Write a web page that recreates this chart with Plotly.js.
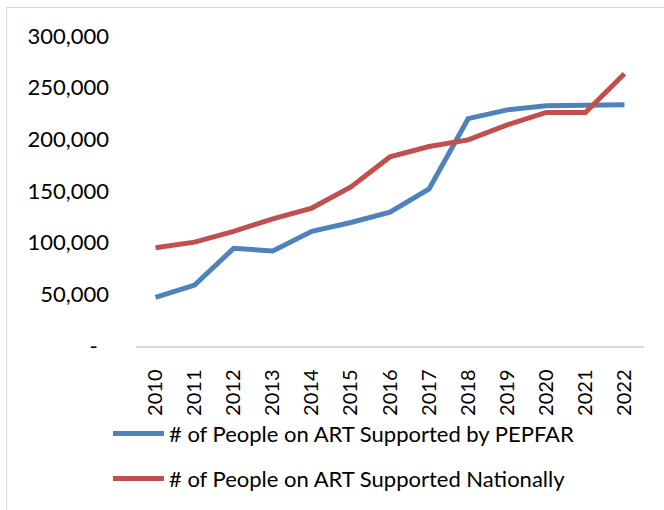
<!DOCTYPE html>
<html>
<head>
<meta charset="utf-8">
<script src="https://cdn.plot.ly/plotly-3.0.1.min.js"></script>
<style>
  html, body { margin: 0; padding: 0; background: #fff; }
  #chart { position: absolute; left: 0; top: 0; width: 664px; height: 510px; }
  #frame { position: absolute; left: 6px; top: 7px; width: 700px; height: 600px;
           border-top: 1.5px solid #d9d9d9; border-left: 1.5px solid #d9d9d9;
           pointer-events: none; z-index: 5; }
</style>
</head>
<body>
<div id="chart"></div>
<div id="frame"></div>
<script>
// Years on the category axis
const years = ['2010', '2011', '2012', '2013', '2014', '2015', '2016',
               '2017', '2018', '2019', '2020', '2021', '2022'];

// People on antiretroviral therapy
const pepfarSupported = [47000, 59000, 94500, 92000, 111000, 119500, 129500,
                         152000, 220000, 228500, 232500, 232500, 233500];
const nationallySupported = [95000, 100500, 111000, 123000, 133500, 154000, 183000,
                             193000, 199500, 214000, 226000, 226000, 263500];

const seriesNames = ['# of People on ART Supported by PEPFAR',
                     '# of People on ART Supported Nationally'];
const seriesColors = ['#4F81BD', '#C0504D'];

// Value axis ticks (accounting style: zero shown as a dash)
const yTickVals = [0, 50000, 100000, 150000, 200000, 250000, 300000];
const yTickText = ['-\u00a0\u00a0', '50,000', '100,000',
                   '150,000', '200,000', '250,000', '300,000'];

const W = 664, H = 510;
const margin = { l: 136, r: 20, t: 36, b: 164 };
const plotW = W - margin.l - margin.r;
const plotH = H - margin.t - margin.b;
const px2x = px => (px - margin.l) / plotW;
const px2y = py => (H - margin.b - py) / plotH;

const FONT = 'Lato, "Liberation Sans", sans-serif';

const traces = [pepfarSupported, nationallySupported].map((vals, i) => ({
  type: 'scatter',
  mode: 'lines',
  x: years,
  y: vals,
  name: seriesNames[i],
  line: { color: seriesColors[i], width: 5 },
  showlegend: false,
  hoverinfo: 'x+y'
}));

// Legend drawn beneath the axis: a swatch line and a label per series
const legendRows = [433.5, 478.5];
const shapes = legendRows.map((py, i) => ({
  type: 'line', xref: 'paper', yref: 'paper',
  x0: px2x(113), x1: px2x(164), y0: px2y(py), y1: px2y(py),
  line: { color: seriesColors[i], width: 5 }
}));
const annotations = legendRows.map((py, i) => ({
  xref: 'paper', yref: 'paper',
  x: px2x(167), y: px2y(py),
  xanchor: 'left', yanchor: 'middle',
  text: seriesNames[i], showarrow: false,
  font: { family: FONT, size: 22, color: '#000' }
}));

const layout = {
  width: W, height: H,
  margin: margin,
  paper_bgcolor: '#fff',
  plot_bgcolor: '#fff',
  font: { family: FONT, color: '#000' },
  xaxis: {
    type: 'category',
    range: [-0.5, years.length - 0.5],
    tickangle: -90,
    ticks: '',
    showgrid: false,
    zeroline: false,
    showline: true,
    linecolor: '#d9d9d9',
    linewidth: 1.5,
    ticklabelstandoff: 14,
    tickfont: { family: FONT, size: 20, color: '#000' }
  },
  yaxis: {
    range: [0, 300000],
    tickvals: yTickVals,
    ticktext: yTickText,
    ticks: '',
    showgrid: false,
    zeroline: false,
    showline: false,
    ticklabelstandoff: 26,
    tickfont: { family: FONT, size: 22, color: '#000' }
  },
  shapes: shapes,
  annotations: annotations
};

Plotly.newPlot('chart', traces, layout, { staticPlot: true, displayModeBar: false });
</script>
</body>
</html>
